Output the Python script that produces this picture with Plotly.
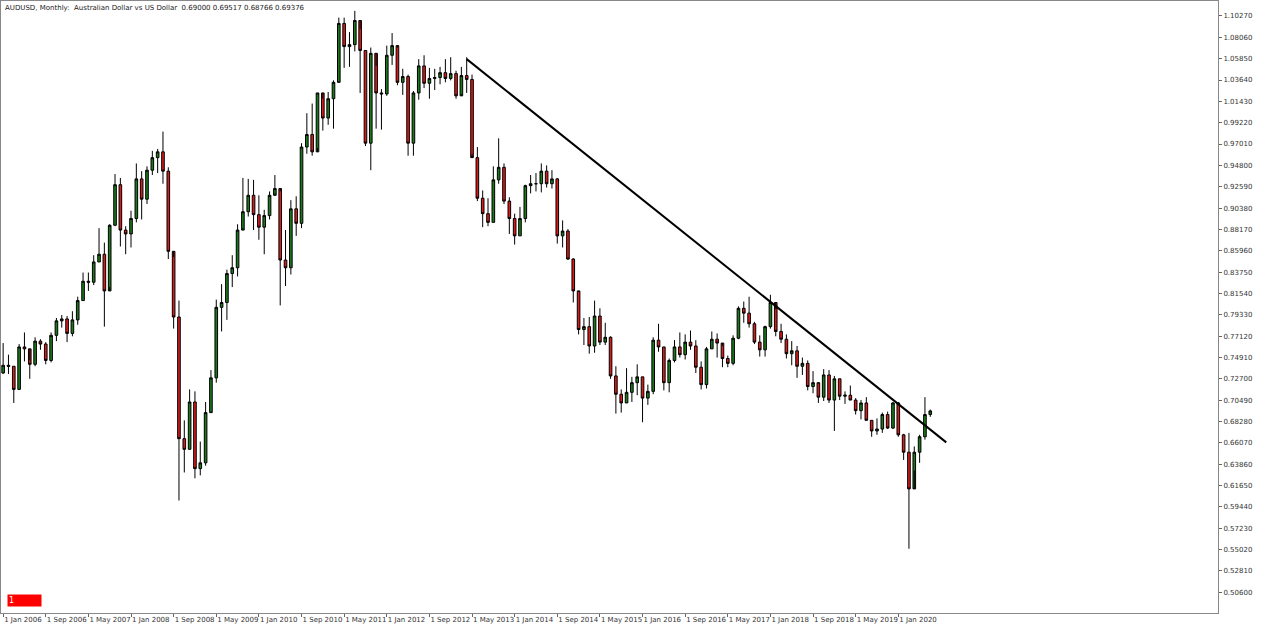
import plotly.graph_objects as go

closes = [
 .741,.740,.716,.760,.758,.742,.766,.763,.746,.772,.787,.789,
 .774,.788,.808,.828,.827,.848,.856,.818,.886,.928,.881,.877,
 .893,.934,.913,.943,.956,.962,.942,.859,.791,.665,.654,.703,
 .634,.640,.692,.728,.801,.806,.836,.842,.881,.900,.917,.897,
 .884,.896,.917,.924,.850,.842,.903,.888,.967,.980,.962,1.023,
 .997,1.017,1.034,1.095,1.071,1.073,1.098,1.067,.971,1.064,1.023,1.022,
 1.062,1.072,1.034,1.040,.971,1.023,1.051,1.033,1.038,1.039,1.044,1.038,
 1.043,1.020,1.041,1.037,.956,.914,.898,.889,.933,.946,.911,.893,
 .875,.893,.927,.929,.929,.942,.929,.934,.875,.880,.851,.818,
 .778,.781,.761,.792,.765,.770,.730,.711,.702,.713,.723,.729,
 .707,.714,.767,.760,.723,.746,.760,.752,.765,.761,.739,.721,
 .758,.768,.764,.748,.743,.769,.800,.795,.784,.765,.757,.781,
 .806,.776,.768,.753,.756,.740,.743,.719,.723,.708,.731,.705,
 .727,.709,.710,.705,.694,.702,.684,.673,.675,.690,.676,.702,
 .669,.651,.613,.651,.667,.690,.69376]
highs = [
 .764,.752,.740,.763,.775,.746,.770,.768,.765,.775,.790,.793,
 .792,.797,.812,.837,.837,.855,.883,.868,.887,.939,.935,.885,
 .901,.950,.942,.947,.963,.965,.983,.946,.853,.808,.684,.716,
 .714,.662,.703,.736,.809,.825,.840,.855,.887,.935,.934,.933,
 .917,.902,.921,.938,.921,.881,.912,.916,.971,1.002,1.012,1.023,
 1.017,1.024,1.036,1.101,1.101,1.086,1.108,1.089,1.067,1.070,1.051,1.027,
 1.072,1.085,1.070,1.048,1.042,1.025,1.058,1.062,1.049,1.048,1.050,1.058,
 1.060,1.046,1.050,1.060,1.042,.967,.922,.914,.947,.976,.950,.915,
 .898,.905,.928,.938,.940,.950,.948,.943,.935,.891,.882,.852,
 .817,.790,.791,.808,.800,.785,.771,.740,.716,.738,.729,.742,
 .729,.721,.770,.784,.760,.748,.767,.775,.773,.777,.767,.745,
 .760,.776,.774,.761,.751,.772,.802,.807,.812,.786,.772,.782,
 .814,.799,.784,.773,.766,.761,.749,.746,.735,.722,.737,.736,
 .730,.727,.714,.720,.707,.705,.708,.684,.686,.692,.693,.703,
 .703,.670,.671,.657,.669,.708,.69517]
lows = [
 .732,.732,.702,.716,.745,.727,.740,.757,.742,.744,.766,.780,
 .765,.771,.783,.808,.818,.824,.848,.781,.822,.885,.864,.856,
 .863,.889,.892,.908,.938,.940,.929,.851,.779,.601,.630,.654,
 .624,.627,.637,.693,.723,.776,.788,.822,.833,.883,.895,.881,
 .871,.856,.892,.919,.803,.823,.835,.875,.883,.960,.958,.966,
 .984,.990,.986,1.035,1.049,1.050,1.066,1.023,.968,.943,.986,.985,
 1.020,1.052,1.031,1.021,.958,.958,1.016,1.028,1.017,1.026,1.032,1.034,
 1.036,1.017,1.022,1.023,.960,.911,.884,.885,.889,.929,.908,.877,
 .866,.875,.889,.919,.921,.920,.925,.924,.867,.863,.850,.806,
 .773,.762,.753,.754,.762,.762,.727,.691,.692,.702,.703,.710,
 .682,.700,.711,.755,.715,.713,.744,.749,.747,.757,.733,.716,
 .717,.758,.749,.739,.739,.741,.768,.785,.780,.763,.750,.750,
 .779,.771,.764,.748,.741,.728,.731,.715,.712,.702,.704,.702,
 .673,.705,.701,.705,.690,.685,.684,.667,.669,.671,.675,.675,
 .667,.643,.551,.632,.640,.664,.68766]
first_open = 0.733
opens = [first_open] + closes[:-1]
opens[-1] = 0.690

x_idx = list(range(len(closes)))
tick_months = list(range(0, 169, 8))
mnames = ["Jan","Feb","Mar","Apr","May","Jun","Jul","Aug","Sep","Oct","Nov","Dec"]
tick_labels = ["1 %s %d" % (mnames[m % 12], 2006 + m // 12) for m in tick_months]
ytick_vals = [0.50600 + k * 0.02210 for k in range(28)]
ytick_text = ["%.5f" % v for v in ytick_vals]

trend_x = [87, 177]
trend_y = [1.058, 0.6612]

fig = go.Figure()
fig.add_trace(go.Candlestick(
    x=x_idx, open=opens, high=highs, low=lows, close=closes,
    increasing=dict(fillcolor="#1a7a1a", line=dict(color="#000000", width=1)),
    decreasing=dict(fillcolor="#dd1a1a", line=dict(color="#000000", width=1)),
    whiskerwidth=0, showlegend=False, hoverinfo="skip"))
fig.add_trace(go.Scatter(x=trend_x, y=trend_y, mode="lines",
    line=dict(color="#000000", width=2), showlegend=False, hoverinfo="skip"))

fig.update_layout(
    width=1280, height=628, paper_bgcolor="white", plot_bgcolor="white",
    margin=dict(l=1, r=62, t=1, b=15, autoexpand=False),
    font=dict(family="DejaVu Sans", size=7, color="#333333"),
    xaxis=dict(range=[-0.4, 228], tickmode="array", tickvals=tick_months, ticktext=tick_labels,
               tickangle=0, automargin=False, ticklabelposition="outside right",
               showgrid=False, zeroline=False, showline=True, mirror=True, linecolor="#888888",
               ticks="outside", ticklen=3, tickcolor="#666666", rangeslider=dict(visible=False)),
    yaxis=dict(range=[0.4845, 1.1182], side="right", tickmode="array", tickvals=ytick_vals,
               ticktext=ytick_text, showgrid=False, zeroline=False, showline=True, mirror=True,
               automargin=False,
               linecolor="#888888", ticks="outside", ticklen=3, tickcolor="#666666"),
    annotations=[
        dict(xref="paper", yref="paper", x=0.002, y=0.998, xanchor="left", yanchor="top",
             text="AUDUSD, Monthly:  Australian Dollar vs US Dollar  0.69000 0.69517 0.68766 0.69376",
             showarrow=False, font=dict(size=7, color="#222222")),
        dict(xref="paper", yref="paper", x=0.005, y=0.01, xanchor="left", yanchor="bottom",
             text="1          ", showarrow=False, bgcolor="#ff0000",
             font=dict(size=8, color="white"), align="left"),
    ])
fig.write_html("out.html", config={"displayModeBar": False})
with open("out.html", encoding="utf-8") as f:
    html = f.read()
html = html.replace("<body>", '<body style="margin:0;overflow:hidden">', 1)
with open("out.html", "w", encoding="utf-8") as f:
    f.write(html)
